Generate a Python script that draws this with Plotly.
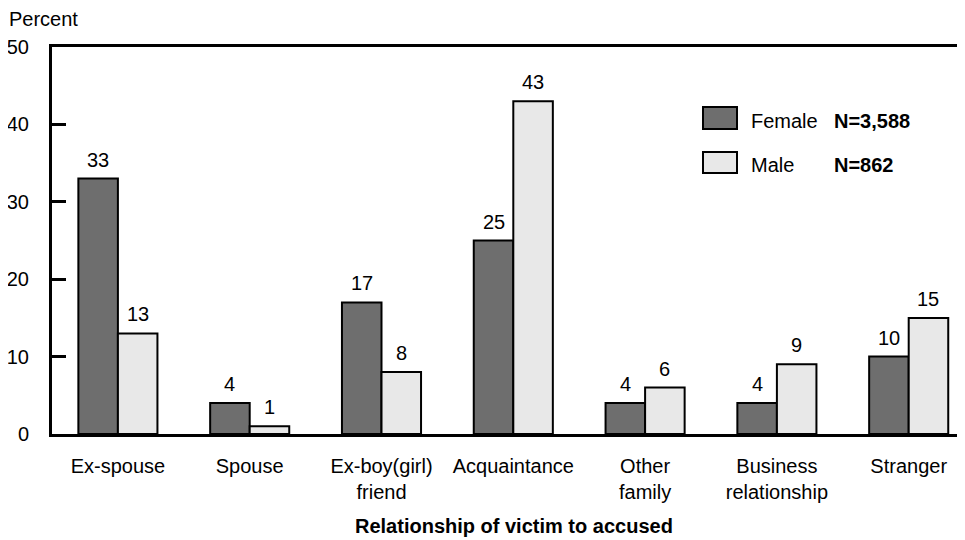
import plotly.graph_objects as go

categories = ["Ex-spouse", "Spouse", "Ex-boy(girl)<br>friend", "Acquaintance",
              "Other<br>family", "Business<br>relationship", "Stranger"]
female = [33, 4, 17, 25, 4, 4, 10]
male = [13, 1, 8, 43, 6, 9, 15]
y_ticks = [0, 10, 20, 30, 40, 50]

FONT = "Liberation Sans, Arial, sans-serif"
FS = 20
OFF = 8  # default page body margin
W, H = 965 - OFF, 540 - OFF
L, R, T, B = 52 - OFF, 0, 47 - OFF, H - (434 - OFF)
PW, PH = W - L - R, H - T - B
BAND = 131.8  # pixel width of a category band
x_max = -0.5 + PW / BAND
BAR_FRAC = 0.6
SHIFT = BAR_FRAC / 4 * BAND

def px(x):
    return (x - OFF - L) / PW

def py(y):
    return (H - B - (y - OFF)) / PH

fig = go.Figure()
fig.add_trace(go.Bar(x=categories, y=female, name="Female",
                     marker=dict(color="#6e6e6e", line=dict(color="black", width=2)),
                     showlegend=False))
fig.add_trace(go.Bar(x=categories, y=male, name="Male",
                     marker=dict(color="#e8e8e8", line=dict(color="black", width=2)),
                     showlegend=False))

annotations = []
for cat, f, m in zip(categories, female, male):
    for val, sh in ((f, -SHIFT), (m, SHIFT)):
        annotations.append(dict(x=cat, y=val, xref="x", yref="y", text=str(val),
                                xshift=sh, yshift=6, yanchor="bottom", showarrow=False,
                                font=dict(size=FS, color="black")))

# legend drawn manually
shapes = [
    dict(type="rect", xref="paper", yref="paper", x0=px(703), x1=px(737), y0=py(129), y1=py(107),
         fillcolor="#6e6e6e", line=dict(color="black", width=2)),
    dict(type="rect", xref="paper", yref="paper", x0=px(703), x1=px(737), y0=py(173), y1=py(152),
         fillcolor="#e8e8e8", line=dict(color="black", width=2)),
]
annotations += [
    dict(text="Female", x=px(749), y=py(121), xref="paper", yref="paper", xanchor="left",
         yanchor="middle", showarrow=False, font=dict(size=FS, color="black")),
    dict(text="<b>N=3,588</b>", x=px(832), y=py(121), xref="paper", yref="paper", xanchor="left",
         yanchor="middle", showarrow=False, font=dict(size=FS, color="black")),
    dict(text="Male", x=px(749), y=py(165), xref="paper", yref="paper", xanchor="left",
         yanchor="middle", showarrow=False, font=dict(size=FS, color="black")),
    dict(text="<b>N=862</b>", x=px(832), y=py(165), xref="paper", yref="paper", xanchor="left",
         yanchor="middle", showarrow=False, font=dict(size=FS, color="black")),
    dict(text="Percent", x=px(7), y=py(19), xref="paper", yref="paper", xanchor="left",
         yanchor="middle", showarrow=False, font=dict(size=FS, color="black")),
    dict(text="<b>Relationship of victim to accused</b>", x=px(514), y=py(526), xref="paper",
         yref="paper", xanchor="center", yanchor="middle", showarrow=False,
         font=dict(size=FS, color="black")),
]

fig.update_layout(
    width=W, height=H,
    margin=dict(l=L, r=R, t=T, b=B, autoexpand=False),
    paper_bgcolor="white", plot_bgcolor="white",
    font=dict(family=FONT, size=FS, color="black"),
    barmode="group", bargap=1 - BAR_FRAC, bargroupgap=0,
    shapes=shapes, annotations=annotations,
    xaxis=dict(range=[-0.5, x_max], showline=True, linecolor="black", linewidth=3, mirror=True,
               ticks="", showgrid=False, tickfont=dict(size=FS), automargin=False,
               ticklabelstandoff=12),
    yaxis=dict(range=[0, 50], tickvals=y_ticks, showline=True, linecolor="black",
               linewidth=3, ticks="inside", ticklen=14, tickwidth=3, tickcolor="black",
               showgrid=False, zeroline=False, tickfont=dict(size=FS), automargin=False,
               ticklabelstandoff=16),
    yaxis2=dict(range=[0, 50], tickvals=y_ticks, overlaying="y", side="right",
                showline=False, ticks="inside", ticklen=5, tickwidth=3, tickcolor="black",
                showticklabels=False, showgrid=False, zeroline=False, automargin=False),
)
# invisible trace to activate the right axis
fig.add_trace(go.Scatter(x=[categories[0]], y=[0], yaxis="y2", mode="markers",
                         marker=dict(opacity=0), showlegend=False, hoverinfo="skip"))

fig.write_html("out.html")
